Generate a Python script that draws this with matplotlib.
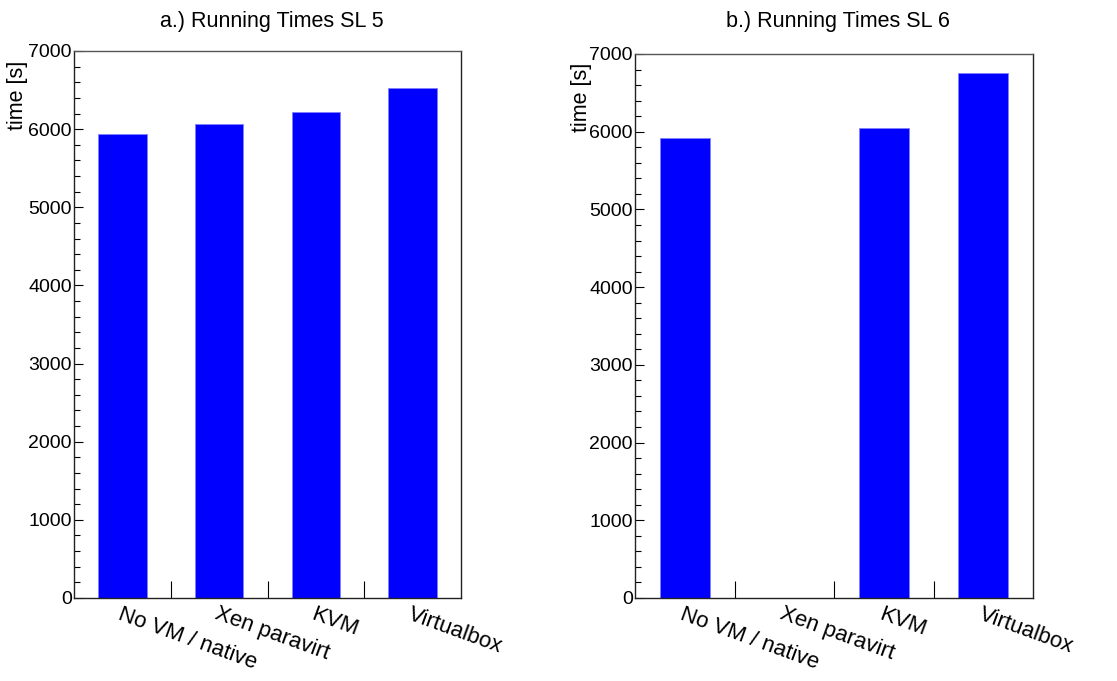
import numpy as np
import matplotlib
matplotlib.use("Agg")
import matplotlib.pyplot as plt
from matplotlib.ticker import MultipleLocator, FixedLocator

plt.rcParams['font.family'] = ['Liberation Sans', 'DejaVu Sans']

categories = ["No VM / native", "Xen paravirt", "KVM", "Virtualbox"]
times_sl5 = [5935, 6069, 6220, 6530]
times_sl6 = [5914, np.nan, 6048, 6760]
titles = ["a.) Running Times SL 5", "b.) Running Times SL 6"]
ylabel = "time [s]"

W, H = 1117, 681
fig = plt.figure(figsize=(W / 100, H / 100), dpi=100)

# axes rectangles in pixels: left, right, top, bottom
rects = [(74, 461, 51, 598), (635, 1033, 54, 598)]
label_x = [-0.118, -0.107]
title_x = [272, 838]

for k, (vals, (l, r, t, b)) in enumerate(zip([times_sl5, times_sl6], rects)):
    ax = fig.add_axes([l / W, 1 - b / H, (r - l) / W, (b - t) / H])
    x = np.arange(len(categories)) + 0.5
    ax.bar(x, vals, width=0.5, color='#0000ff', edgecolor='#7f7fff', linewidth=0.6, zorder=2)
    ax.set_xlim(0, len(categories))
    ax.set_ylim(0, 7000)

    # y axis
    ax.yaxis.set_major_locator(MultipleLocator(1000))
    ax.yaxis.set_minor_locator(MultipleLocator(200))
    ax.tick_params(axis='y', which='major', direction='in', length=6.5, width=0.8,
                   labelsize=14, pad=1.5, right=False)
    ax.tick_params(axis='y', which='minor', direction='in', length=4.3, width=0.8, right=False)

    # x axis: labels at bin centres, ticks at bin edges
    ax.xaxis.set_major_locator(FixedLocator(x))
    ax.set_xticklabels(categories)
    ax.xaxis.set_minor_locator(FixedLocator(np.arange(1, len(categories))))
    ax.tick_params(axis='x', which='major', length=0, labelsize=16, pad=4)
    ax.tick_params(axis='x', which='minor', direction='in', length=12.5, width=0.8, top=False)
    for lab in ax.get_xticklabels():
        lab.set_rotation(-20)
        lab.set_ha('left')
        lab.set_va('top')
        lab.set_rotation_mode('anchor')

    for side in ['left', 'bottom', 'right']:
        ax.spines[side].set_color('#222222')
        ax.spines[side].set_linewidth(1.0)
    ax.spines['top'].set_color('#555555')
    ax.spines['top'].set_linewidth(1.0)

    ax.set_ylabel(ylabel, fontsize=15.5, loc='top')
    ax.yaxis.set_label_coords(label_x[k], 0.983)

    fig.text(title_x[k] / W, 1 - 27 / H, titles[k], fontsize=15.5,
             ha='center', va='baseline')

fig.savefig("out.png", dpi=100)
